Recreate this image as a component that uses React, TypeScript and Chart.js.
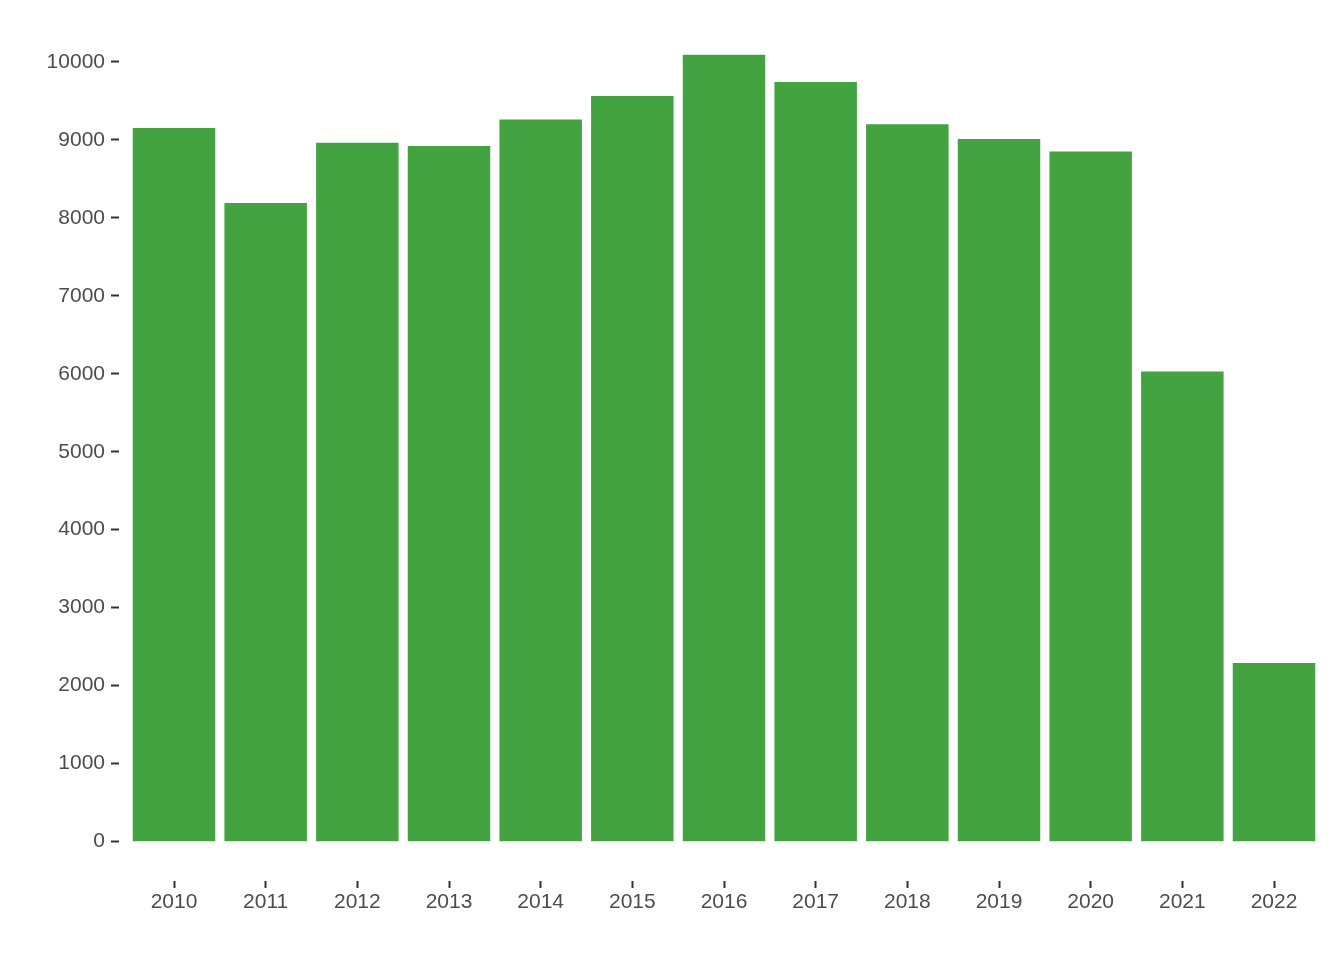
import React, { useEffect, useRef } from "react";
import { Chart, registerables } from "chart.js";

Chart.register(...registerables);

const years: string[] = ["2010", "2011", "2012", "2013", "2014", "2015", "2016", "2017", "2018", "2019", "2020", "2021", "2022"];
const counts: number[] = [9150, 8190, 8960, 8920, 9260, 9560, 10090, 9740, 9200, 9010, 8850, 6030, 2290];
const yTickValues: number[] = [0, 1000, 2000, 3000, 4000, 5000, 6000, 7000, 8000, 9000, 10000];

const FONT = "'Liberation Sans', Arial, Helvetica, sans-serif";
const TEXT = "#4D4D4D";
const TICK = "#333333";
const BAR = "#43A340";

export default function App() {
  const ref = useRef<HTMLCanvasElement | null>(null);

  useEffect(() => {
    if (!ref.current) return;
    const maxV = Math.max(...counts);
    const pad = maxV * 0.05;
    const chart = new Chart(ref.current, {
      type: "bar",
      data: {
        datasets: [
          {
            data: counts.map((v, i) => ({ x: i, y: v })),
            backgroundColor: BAR,
            borderWidth: 0,
            barPercentage: 0.9,
            categoryPercentage: 1,
          },
        ],
      },
      options: {
        responsive: false,
        animation: false,
        layout: { padding: { left: 0, right: 15, top: 15.4, bottom: 0 } },
        plugins: { legend: { display: false }, tooltip: { enabled: false } },
        scales: {
          x: {
            type: "linear",
            min: -0.6,
            max: years.length - 1 + 0.6,
            offset: false,
            afterBuildTicks: (scale: any) => {
              scale.ticks = years.map((_, i) => ({ value: i }));
            },
            afterFit: (scale: any) => {
              scale.height = 79;
            },
            ticks: {
              autoSkip: false,
              maxRotation: 0,
              padding: 2,
              color: TEXT,
              font: { family: FONT, size: 21 },
              callback: (v: any) => years[Number(v)] ?? "",
            },
            grid: {
              offset: false,
              drawOnChartArea: false,
              drawTicks: true,
              tickLength: 7,
              tickWidth: 2,
              tickColor: TICK,
            },
            border: { display: false },
          },
          y: {
            type: "linear",
            min: -pad,
            max: maxV + pad,
            afterBuildTicks: (scale: any) => {
              scale.ticks = yTickValues.map((v) => ({ value: v }));
            },
            afterFit: (scale: any) => {
              scale.width = 119;
              scale.paddingTop = 0;
              scale.paddingBottom = 0;
            },
            ticks: {
              padding: 6,
              color: TEXT,
              font: { family: FONT, size: 21, lineHeight: 1 },
              callback: (v: any) => String(v),
            },
            grid: {
              drawOnChartArea: false,
              drawTicks: true,
              tickLength: 8,
              tickWidth: 2,
              tickColor: TICK,
            },
            border: { display: false },
          },
        },
      },
    } as any);
    return () => chart.destroy();
  }, []);

  return (
    <div style={{ position: "absolute", left: 0, top: 0, width: 1344, height: 960, background: "#fff" }}>
      <canvas ref={ref} width={1344} height={960} style={{ display: "block" }} />
    </div>
  );
}
